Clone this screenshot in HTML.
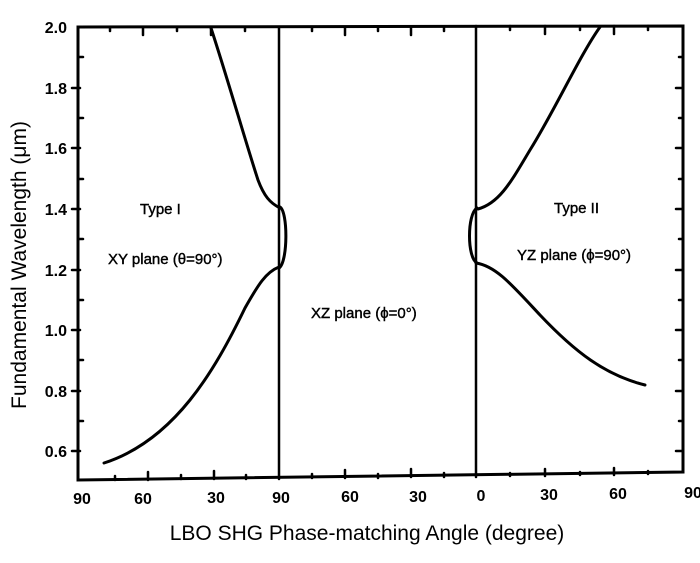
<!DOCTYPE html>
<html><head><meta charset="utf-8"><style>
html,body{margin:0;padding:0;background:#fff;}
svg{display:block;font-family:"Liberation Sans",Arial,sans-serif;}
</style></head><body>
<svg width="700" height="563" viewBox="0 0 700 563" xmlns="http://www.w3.org/2000/svg">
<rect width="700" height="563" fill="#fff"/>
<g stroke="#000" fill="none" stroke-linecap="round">
<path d="M78,27 L683,26 L683,472 L78,480 Z" stroke-width="3"/>
<line x1="279" y1="27" x2="279" y2="479" stroke-width="2.5"/>
<line x1="476" y1="26" x2="476" y2="477" stroke-width="2.5"/>
<g stroke-width="2.5">
<line x1="72" y1="88" x2="80" y2="88"/><line x1="72" y1="148" x2="80" y2="148"/>
<line x1="72" y1="209" x2="80" y2="209"/><line x1="72" y1="270" x2="80" y2="270"/>
<line x1="72" y1="330" x2="80" y2="330"/><line x1="72" y1="391" x2="80" y2="391"/>
<line x1="72" y1="451" x2="80" y2="451"/>
<line x1="78" y1="57" x2="83" y2="57"/><line x1="78" y1="118" x2="83" y2="118"/>
<line x1="78" y1="179" x2="83" y2="179"/><line x1="78" y1="239" x2="83" y2="239"/>
<line x1="78" y1="300" x2="83" y2="300"/><line x1="78" y1="360" x2="83" y2="360"/>
<line x1="78" y1="421" x2="83" y2="421"/>
<line x1="676" y1="88" x2="683" y2="88"/><line x1="676" y1="148" x2="683" y2="148"/>
<line x1="676" y1="209" x2="683" y2="209"/><line x1="676" y1="270" x2="683" y2="270"/>
<line x1="676" y1="330" x2="683" y2="330"/><line x1="676" y1="391" x2="683" y2="391"/>
<line x1="676" y1="451" x2="683" y2="451"/>
<line x1="679" y1="57" x2="683" y2="57"/><line x1="679" y1="118" x2="683" y2="118"/>
<line x1="679" y1="179" x2="683" y2="179"/><line x1="679" y1="239" x2="683" y2="239"/>
<line x1="679" y1="300" x2="683" y2="300"/><line x1="679" y1="360" x2="683" y2="360"/>
<line x1="679" y1="421" x2="683" y2="421"/>
<line x1="148" y1="472" x2="148" y2="480"/><line x1="214" y1="471" x2="214" y2="479"/>
<line x1="345" y1="470" x2="345" y2="478"/><line x1="411" y1="469" x2="411" y2="477"/>
<line x1="545" y1="469" x2="545" y2="476"/><line x1="614" y1="468" x2="614" y2="475"/>
<line x1="115" y1="476" x2="115" y2="480"/><line x1="181" y1="475" x2="181" y2="479"/>
<line x1="246" y1="475" x2="246" y2="479"/><line x1="312" y1="474" x2="312" y2="478"/>
<line x1="378" y1="474" x2="378" y2="478"/><line x1="444" y1="473" x2="444" y2="477"/>
<line x1="510" y1="473" x2="510" y2="476"/><line x1="580" y1="472" x2="580" y2="475"/>
<line x1="648" y1="471" x2="648" y2="474"/>
<line x1="143" y1="27" x2="143" y2="35"/><line x1="211" y1="27" x2="211" y2="35"/>
<line x1="345" y1="27" x2="345" y2="35"/><line x1="411" y1="27" x2="411" y2="35"/>
<line x1="545" y1="26" x2="545" y2="34"/><line x1="614" y1="26" x2="614" y2="34"/>
<line x1="110" y1="27" x2="110" y2="31"/><line x1="177" y1="27" x2="177" y2="31"/>
<line x1="245" y1="27" x2="245" y2="31"/><line x1="312" y1="27" x2="312" y2="31"/>
<line x1="378" y1="27" x2="378" y2="31"/><line x1="444" y1="27" x2="444" y2="31"/>
<line x1="510" y1="26" x2="510" y2="30"/><line x1="580" y1="26" x2="580" y2="30"/>
<line x1="648" y1="26" x2="648" y2="30"/>
</g>
<g stroke-width="3">
<path d="M211,28 C228,80 245,140 258,180 C264,196 270,203 280,208"/>
<path d="M280,207 C288,212 288,262 279,268"/>
<path d="M279,267 C266,272 258,285 245,308 C215,370 175,440 104,463"/>
<path d="M600,27 C580,55 555,110 530,150 C512,180 500,203 478,209"/>
<path d="M477,208 C467,214 467,258 477,263"/>
<path d="M476,263 C496,266 512,285 540,315 C575,352 605,375 645,385"/>
</g>
</g>
<g font-weight="bold" font-size="16" fill="#000" text-anchor="end">
<text x="67" y="33">2.0</text><text x="67" y="94">1.8</text><text x="67" y="154">1.6</text>
<text x="67" y="215">1.4</text><text x="67" y="276">1.2</text><text x="67" y="336">1.0</text>
<text x="67" y="397">0.8</text><text x="67" y="457">0.6</text>
</g>
<g font-weight="bold" font-size="16" fill="#000" text-anchor="middle">
<text x="82" y="504">90</text><text x="143" y="504">60</text><text x="216" y="503">30</text>
<text x="281" y="503">90</text><text x="350" y="502">60</text><text x="418" y="502">30</text>
<text x="481" y="501">0</text><text x="549" y="500">30</text><text x="618" y="499">60</text>
<text x="693" y="498">90</text>
</g>
<g font-size="15" fill="#000" stroke="#000" stroke-width="0.4">
<text x="140" y="214">Type I</text>
<text x="108" y="264">XY plane (θ=90°)</text>
<text x="311" y="318">XZ plane (ϕ=0°)</text>
<text x="554" y="213">Type II</text>
<text x="517" y="260">YZ plane (ϕ=90°)</text>
</g>
<text x="367" y="540" font-size="21" text-anchor="middle" fill="#000">LBO SHG Phase-matching Angle (degree)</text>
<text transform="translate(26,265) rotate(-90)" font-size="21" text-anchor="middle" fill="#000">Fundamental Wavelength (μm)</text>
</svg>
</body></html>
